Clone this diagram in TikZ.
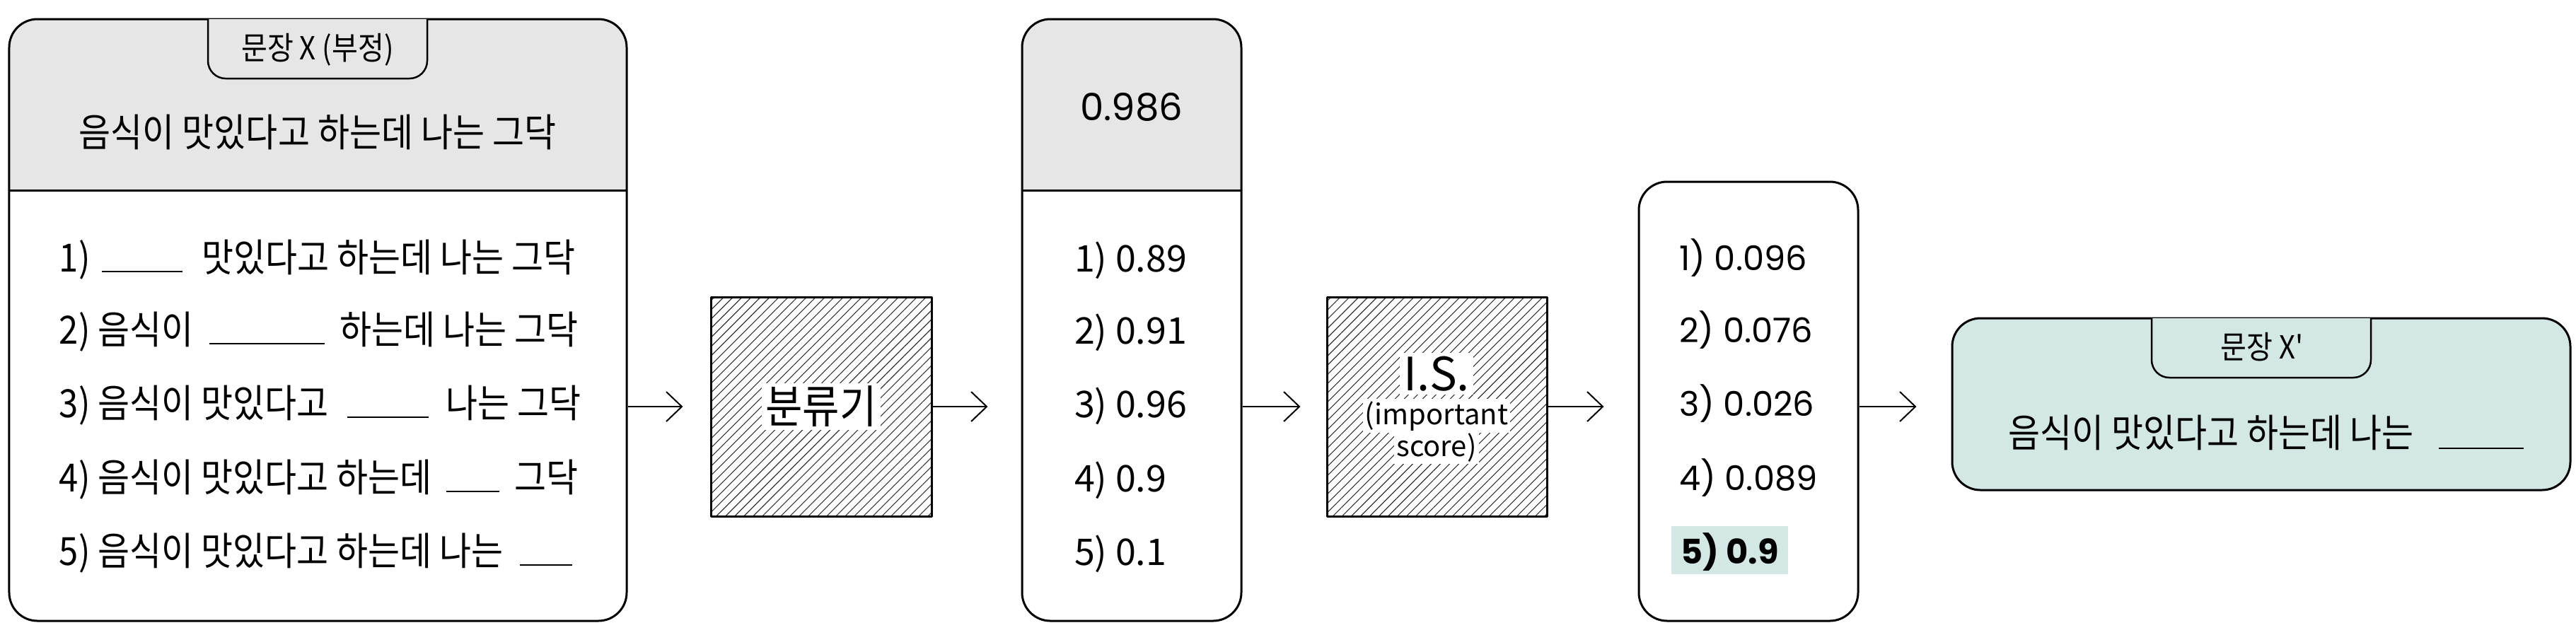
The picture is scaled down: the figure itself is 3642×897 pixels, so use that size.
\documentclass[tikz,border=0pt]{standalone}
\usepackage{fontspec}
\usetikzlibrary{arrows.meta,patterns.meta}
\newfontfamily\kr{Noto Sans CJK KR}[FakeStretch=0.89]
\newfontfamily\krw{Noto Sans CJK KR}
\newfontfamily\pop{Poppins}
\definecolor{hdr}{HTML}{E6E6E6}
\definecolor{mint}{HTML}{D3E8E5}
\begin{document}
\begin{tikzpicture}[x=0.2pt,y=-0.2pt,line join=round,
  box/.style={draw, line width=0.6pt, rounded corners=8pt, inner sep=0pt},
  hbox/.style={draw, line width=0.6pt, inner sep=0pt, pattern={Lines[angle=45,distance=1.84pt,line width=0.22pt]}, pattern color=black!80},
  tabline/.style={draw, line width=0.5pt, rounded corners=5pt},
  ktx/.style={font=\kr\fontsize{11}{13}\selectfont, inner sep=0pt, anchor=base west},
  ktc/.style={font=\kr\fontsize{11}{13}\selectfont, inner sep=0pt, anchor=base},
  tabtx/.style={font=\kr\fontsize{9}{11}\selectfont, inner sep=0pt, anchor=base},
  ntx/.style={font=\krw\fontsize{10.4}{12}\selectfont, inner sep=0pt, anchor=base west},
  ptx/.style={font=\pop\fontsize{9.6}{12}\selectfont, inner sep=0pt, anchor=base west},
  ul/.style={line width=0.4pt},
  arr/.style={line width=0.4pt, -{Straight Barb[length=4.4pt,width=8.4pt,line width=0.4pt]}}
]
\useasboundingbox (0,0) rectangle (3642,897);

% ---------- left box ----------
\begin{scope}
  \clip (0,0) rectangle (3642,269);
  \fill[hdr, rounded corners=8pt] (13,27) rectangle (886,878);
\end{scope}
\draw[line width=0.6pt] (13,269) -- (886,269);
\node[box, minimum width=174.6pt, minimum height=170.2pt] (L) at (449.5,452.5) {};
\path[tabline, fill=hdr] (294,27) -- (294,111) -- (604,111) -- (604,27);
\node[tabtx] (Ltab) at (449,84) {문장 X (부정)};
\node[ktc] (Lhead) at (449,207) {음식이 맛있다고 하는데 나는 그닥};

\node[ktx] (l1a) at (83,384) {1)};
\draw[ul] (144,384) -- (258,384);
\node[ktx] (l1b) at (284,384) {맛있다고 하는데 나는 그닥};

\node[ktx] (l2a) at (83,486) {2) 음식이};
\draw[ul] (296,486) -- (459,486);
\node[ktx] (l2b) at (479,486) {하는데 나는 그닥};

\node[ktx] (l3a) at (83,590) {3) 음식이 맛있다고};
\draw[ul] (491,590) -- (606,590);
\node[ktx] (l3b) at (629,590) {나는 그닥};

\node[ktx] (l4a) at (83,695) {4) 음식이 맛있다고 하는데};
\draw[ul] (631,695) -- (706,695);
\node[ktx] (l4b) at (726,695) {그닥};

\node[ktx] (l5a) at (83,799) {5) 음식이 맛있다고 하는데 나는};
\draw[ul] (735,799) -- (809,799);

% ---------- classifier ----------
\node[hbox, minimum width=62.4pt, minimum height=62pt] (C) at (1161,575) {};
\node[font=\kr\fontsize{12.8}{14}\selectfont, fill=white, inner xsep=1pt, inner ysep=0.8pt] (Ct) at (C.center) {분류기};

% ---------- middle box ----------
\begin{scope}
  \clip (0,0) rectangle (3642,269);
  \fill[hdr, rounded corners=8pt] (1445,27) rectangle (1755,878);
\end{scope}
\draw[line width=0.6pt] (1445,269) -- (1755,269);
\node[box, minimum width=62pt, minimum height=170.2pt] (M) at (1600,452.5) {};
\node[font=\pop\fontsize{10.6}{12}\selectfont, inner sep=0pt, anchor=base] (Mh) at (1600,170) {0.986};
\node[ntx] (m1) at (1518,384) {1)\ 0.89};
\node[ntx] (m2) at (1518,486) {2)\ 0.91};
\node[ntx] (m3) at (1518,590) {3)\ 0.96};
\node[ntx] (m4) at (1518,695) {4)\ 0.9};
\node[ntx] (m5) at (1518,799) {5)\ 0.1};

% ---------- I.S. ----------
\node[hbox, minimum width=62.2pt, minimum height=62pt] (IS) at (2031.5,575) {};
\node[font=\krw\fontsize{13}{14}\selectfont, fill=white, inner xsep=1pt, inner ysep=1pt, anchor=base] (IS1) at (2031,552) {I.S.};
\node[font=\krw\fontsize{8}{9}\selectfont, fill=white, inner xsep=0.6pt, inner ysep=0.6pt, anchor=base] (IS2) at (2031,600) {(important};
\node[font=\krw\fontsize{8}{9}\selectfont, fill=white, inner xsep=0.6pt, inner ysep=0.6pt, anchor=base] (IS3) at (2031,645) {score)};

% ---------- score box ----------
\node[box, minimum width=62pt, minimum height=124.2pt] (R) at (2472,567.5) {};
\node[ptx] (r1) at (2373,382) {1) 0.096};
\node[ptx] (r2) at (2373,484) {2) 0.076};
\node[ptx] (r3) at (2373,588) {3) 0.026};
\node[ptx] (r4) at (2373,693) {4) 0.089};
\fill[mint] (2363,744) rectangle (2528,812);
\node[ptx, font=\pop\bfseries\fontsize{9.6}{12}\selectfont] (r5) at (2375,797) {5) 0.9};

% ---------- final box ----------
\node[box, fill=mint, minimum width=174.8pt, minimum height=48.6pt] (F) at (3197,571.5) {};
\path[tabline, fill=mint] (3042,450) -- (3042,534) -- (3352,534) -- (3352,450);
\node[tabtx] (Ftab) at (3198,507) {문장 X'};
\node[ktx] (Ftext) at (2838,632) {음식이 맛있다고 하는데 나는};
\draw[ul] (3448,634) -- (3568,634);

% ---------- arrows ----------
\draw[arr, shorten >=7.8pt] (L.east |- C.west) -- (C.west);
\draw[arr, shorten >=9.4pt] (C.east) -- (M.west |- C.east);
\draw[arr, shorten >=7.2pt] (M.east |- IS.west) -- (IS.west);
\draw[arr, shorten >=9.6pt] (IS.east) -- (R.west |- IS.east);
\draw[arr, shorten >=9.8pt] (R.east |- IS.east) -- (F.west |- IS.east);
\end{tikzpicture}
\end{document}
